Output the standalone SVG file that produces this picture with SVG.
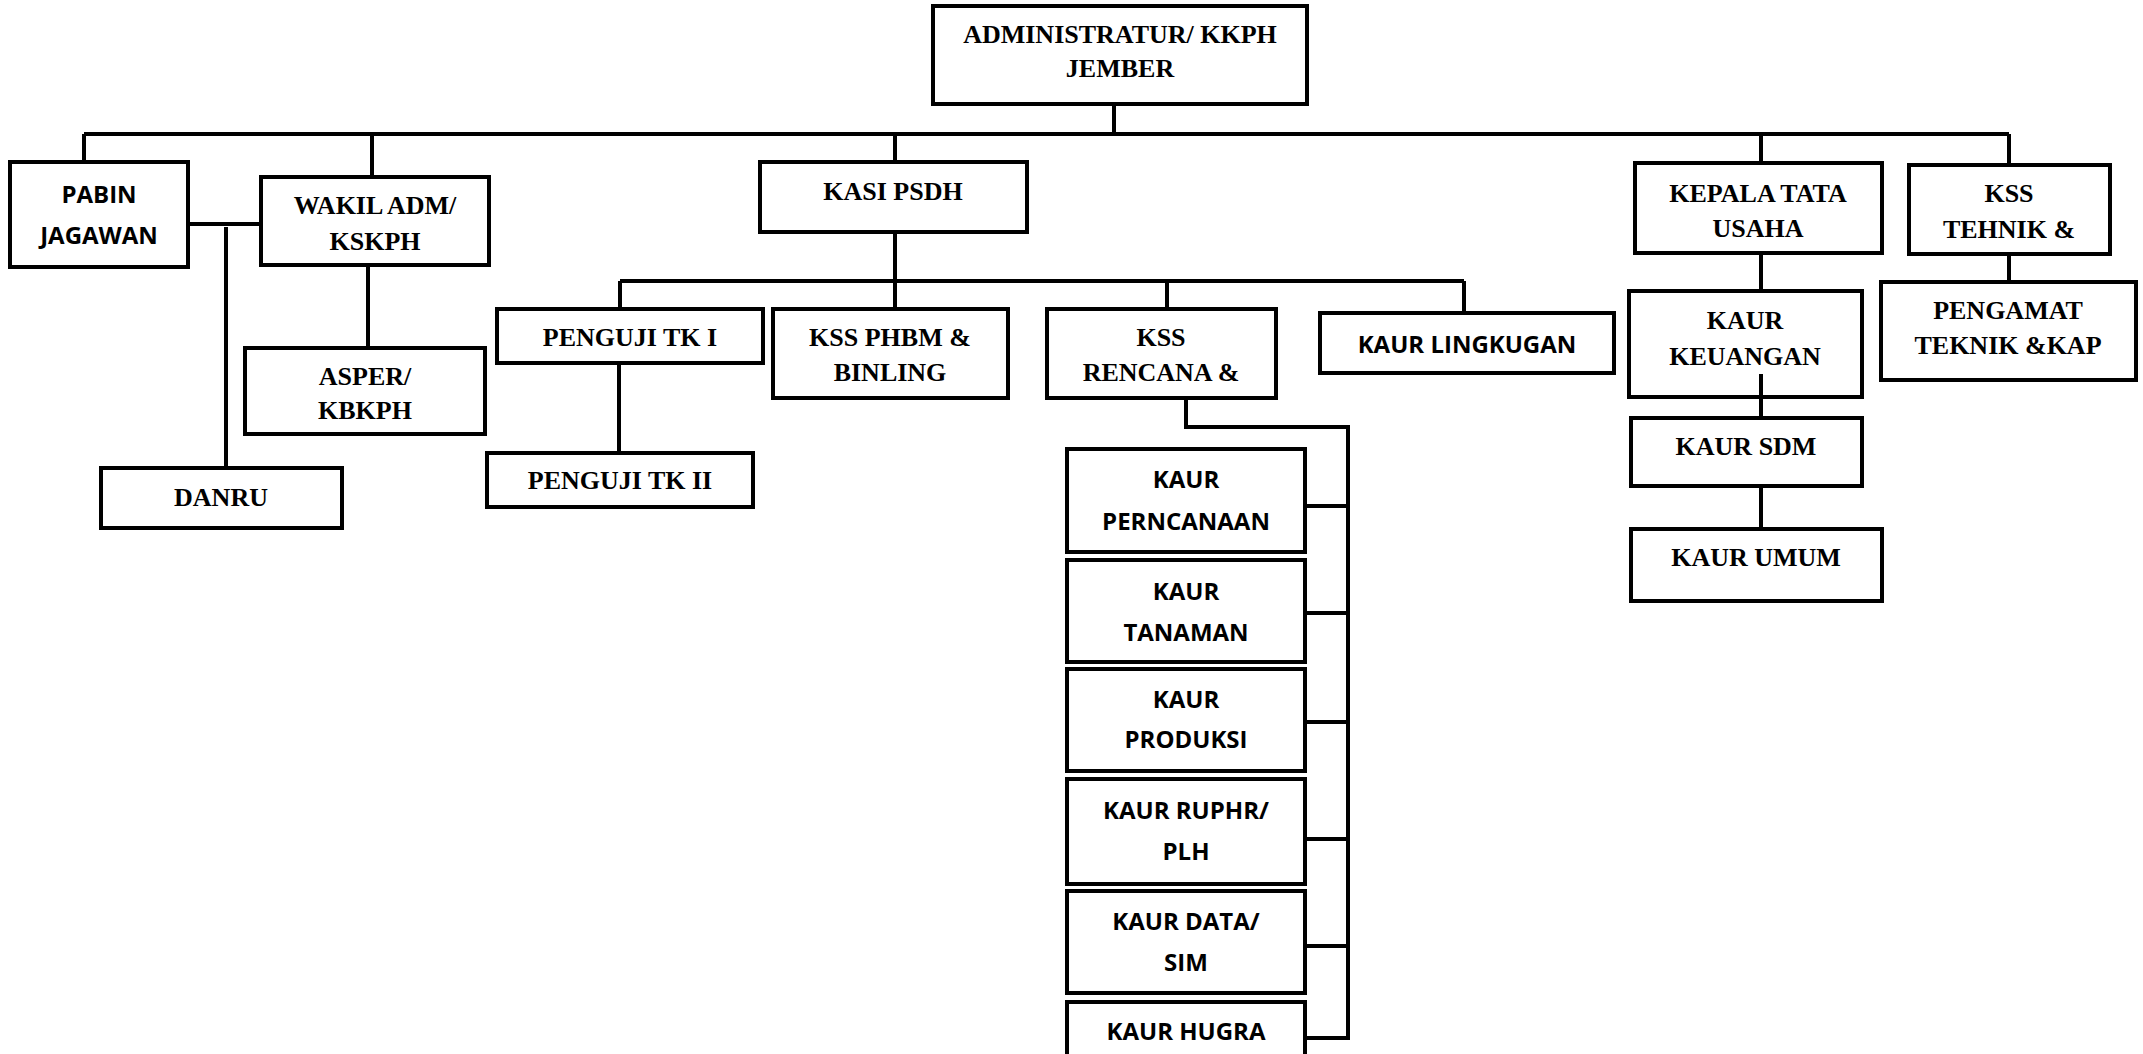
<svg xmlns="http://www.w3.org/2000/svg" width="2143" height="1054" viewBox="0 0 2143 1054">
<style>
.b{fill:#fff;stroke:#000;stroke-width:4}
.c{fill:none;stroke:#000;stroke-width:4}
.s{font-family:"Liberation Serif","Times New Roman",serif;font-weight:bold;font-size:26px;text-anchor:middle;fill:#000}
.n{font-family:"Open Sans","Noto Sans",sans-serif;font-weight:bold;font-size:24px;text-anchor:middle;fill:#000}
</style>
<rect width="2143" height="1054" fill="#fff"/>
<g id="nodes">
<g id="admin"><rect class="b" x="933" y="6" width="374" height="98"/><text class="s" x="1120" y="43">ADMINISTRATUR/ KKPH</text><text class="s" x="1120" y="77">JEMBER</text></g>
<g id="pabin"><rect class="b" x="10" y="162" width="178" height="105"/><text class="n" x="99" y="203">PABIN</text><text class="n" x="99" y="244">JAGAWAN</text></g>
<g id="wakil"><rect class="b" x="261" y="177" width="228" height="88"/><text class="s" x="375" y="214">WAKIL ADM/</text><text class="s" x="375" y="250">KSKPH</text></g>
<g id="asper"><rect class="b" x="245" y="348" width="240" height="86"/><text class="s" x="365" y="385">ASPER/</text><text class="s" x="365" y="419">KBKPH</text></g>
<g id="danru"><rect class="b" x="101" y="468" width="241" height="60"/><text class="s" x="221" y="506">DANRU</text></g>
<g id="penguji1"><rect class="b" x="497" y="309" width="266" height="54"/><text class="s" x="630" y="346">PENGUJI TK I</text></g>
<g id="penguji2"><rect class="b" x="487" y="453" width="266" height="54"/><text class="s" x="620" y="489">PENGUJI TK II</text></g>
<g id="kasi"><rect class="b" x="760" y="162" width="267" height="70"/><text class="s" x="893" y="200">KASI PSDH</text></g>
<g id="phbm"><rect class="b" x="773" y="309" width="235" height="89"/><text class="s" x="890" y="346">KSS PHBM &amp;</text><text class="s" x="890" y="381">BINLING</text></g>
<g id="rencana"><rect class="b" x="1047" y="309" width="229" height="89"/><text class="s" x="1161" y="346">KSS</text><text class="s" x="1161" y="381">RENCANA &amp;</text></g>
<g id="lingkugan"><rect class="b" x="1320" y="313" width="294" height="60"/><text class="n" x="1467" y="353">KAUR LINGKUGAN</text></g>
<g id="kepala"><rect class="b" x="1635" y="163" width="247" height="90"/><text class="s" x="1758" y="202">KEPALA TATA</text><text class="s" x="1758" y="237">USAHA</text></g>
<g id="tehnik"><rect class="b" x="1909" y="165" width="201" height="89"/><text class="s" x="2009" y="202">KSS</text><text class="s" x="2009" y="238">TEHNIK &amp;</text></g>
<g id="pengamat"><rect class="b" x="1881" y="282" width="255" height="98"/><text class="s" x="2008" y="319">PENGAMAT</text><text class="s" x="2008" y="354">TEKNIK &amp;KAP</text></g>
<g id="keuangan"><rect class="b" x="1629" y="291" width="233" height="106"/><text class="s" x="1745" y="329">KAUR</text><text class="s" x="1745" y="365">KEUANGAN</text></g>
<g id="sdm"><rect class="b" x="1631" y="418" width="231" height="68"/><text class="s" x="1746" y="455">KAUR SDM</text></g>
<g id="umum"><rect class="b" x="1631" y="529" width="251" height="72"/><text class="s" x="1756" y="566">KAUR UMUM</text></g>
<g id="perncanaan"><rect class="b" x="1067" y="449" width="238" height="103"/><text class="n" x="1186" y="488">KAUR</text><text class="n" x="1186" y="530">PERNCANAAN</text></g>
<g id="tanaman"><rect class="b" x="1067" y="560" width="238" height="102"/><text class="n" x="1186" y="600">KAUR</text><text class="n" x="1186" y="641">TANAMAN</text></g>
<g id="produksi"><rect class="b" x="1067" y="669" width="238" height="102"/><text class="n" x="1186" y="708">KAUR</text><text class="n" x="1186" y="748">PRODUKSI</text></g>
<g id="ruphr"><rect class="b" x="1067" y="779" width="238" height="105"/><text class="n" x="1186" y="819">KAUR RUPHR/</text><text class="n" x="1186" y="860">PLH</text></g>
<g id="data"><rect class="b" x="1067" y="891" width="238" height="102"/><text class="n" x="1186" y="930">KAUR DATA/</text><text class="n" x="1186" y="971">SIM</text></g>
<g id="hugra"><rect class="b" x="1067" y="1002" width="238" height="70"/><text class="n" x="1186" y="1040">KAUR HUGRA</text></g>
</g>
<g id="connectors" class="c">
<path class="c" d="M1114 104V134M84 134H2009M84 134V162M372 134V177M895 134V162M1761 134V163M2009 134V165"/>
<path class="c" d="M188 224H261M226 227V468M368 265V348"/>
<path class="c" d="M895 232V309M620 281H1464M620 281V309M1167 281V309M1464 281V313M619 363V453"/>
<path class="c" d="M1186 398V427H1348V1040M1305 506H1348M1305 613H1348M1305 722H1348M1305 839H1348M1305 946H1348M1305 1038H1348"/>
<path class="c" d="M1761 253V291M1761 374V418M1761 486V529M2009 254V282"/>
</g>
</svg>
